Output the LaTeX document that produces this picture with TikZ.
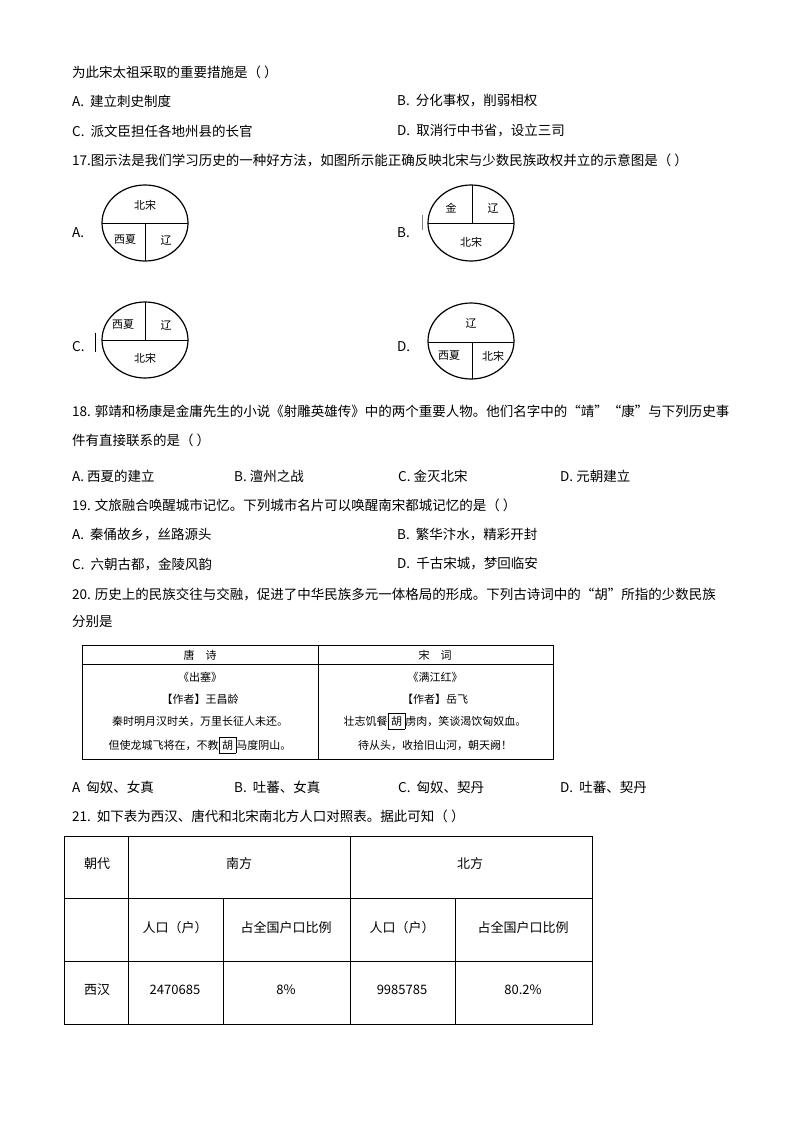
\documentclass[tikz,border=0pt]{standalone}
\usepackage{fontspec}
\setmainfont{Noto Sans CJK SC}
\begin{document}
\begin{tikzpicture}[x=1pt,y=-1pt,
 t/.style={anchor=west,inner sep=0,font=\fontsize{13.5}{14}\selectfont},
 s/.style={inner sep=0,font=\fontsize{11}{12}\selectfont},
 c/.style={inner sep=0,font=\fontsize{13}{14}\selectfont},
 el/.style={line width=1.2pt},
 ln/.style={line width=0.8pt}]
\useasboundingbox[fill=white] (0,0) rectangle (800,1132);
\node[t] (l1) at (72,72) {为此宋太祖采取的重要措施是（ ）};
\node[t] (a16) at (72,101) {A.\ \ 建立刺史制度};
\node[t] (b16) at (397,101) {B.\ \ 分化事权，削弱相权};
\node[t] (c16) at (72,131) {C.\ \ 派文臣担任各地州县的长官};
\node[t] (d16) at (397,131) {D.\ \ 取消行中书省，设立三司};
\node[t] (q17) at (72,160) {17.图示法是我们学习历史的一种好方法，如图所示能正确反映北宋与少数民族政权并立的示意图是（ ）};
% A
\node[t] (la) at (72,233) {A.};
\draw[el] (145,223) ellipse (43 and 38);
\draw[ln] (102,223) -- (188,223); \draw[ln] (145,223) -- (145,261);
\node[s] (a1) at (145,205) {北宋}; \node[s] (a2) at (125,240) {西夏}; \node[s] (a3) at (166,240) {辽};
% B
\node[t] (lb) at (397,233) {B.};
\draw[el] (471,223) ellipse (43 and 38);
\draw[ln] (428,223) -- (514,223); \draw[ln] (472,185) -- (472,223);
\draw[line width=0.6pt,gray] (422,215) -- (422,230);
\node[s] (b1) at (451,208) {金}; \node[s] (b2) at (493,208) {辽}; \node[s] (b3) at (471,242) {北宋};
% C
\node[t] (lc) at (72,347) {C.};
\draw[el] (145,340) ellipse (43 and 38);
\draw[ln] (102,340) -- (188,340); \draw[ln] (145,302) -- (145,340);
\draw[line width=1pt] (95,333) -- (95,352);
\node[s] (c1) at (123,325) {西夏}; \node[s] (c2) at (166,325) {辽}; \node[s] (c3) at (145,358) {北宋};
% D
\node[t] (ld) at (397,347) {D.};
\draw[el] (471,341) ellipse (43 and 38);
\draw[ln] (428,342) -- (514,342); \draw[ln] (472,342) -- (472,379);
\node[s] (d1) at (471,323) {辽}; \node[s] (d2) at (449,356) {西夏}; \node[s] (d3) at (493,356) {北宋};
% 18
\node[t] (q18a) at (72,411) {18. 郭靖和杨康是金庸先生的小说《射雕英雄传》中的两个重要人物。他们名字中的“靖”“康”与下列历史事};
\node[t] (q18b) at (72,440) {件有直接联系的是（ ）};
\node[t] (a18) at (72,476) {A. 西夏的建立};
\node[t] (b18) at (234,476) {B. 澶州之战};
\node[t] (c18) at (398,476) {C. 金灭北宋};
\node[t] (d18) at (560,476) {D. 元朝建立};
% 19
\node[t] (q19) at (72,505) {19. 文旅融合唤醒城市记忆。下列城市名片可以唤醒南宋都城记忆的是（ ）};
\node[t] (a19) at (72,535) {A.\ \ 秦俑故乡，丝路源头};
\node[t] (b19) at (397,535) {B.\ \ 繁华汴水，精彩开封};
\node[t] (c19) at (72,564) {C.\ \ 六朝古都，金陵风韵};
\node[t] (d19) at (397,564) {D.\ \ 千古宋城，梦回临安};
% 20
\node[t] (q20a) at (72,594) {20. 历史上的民族交往与交融，促进了中华民族多元一体格局的形成。下列古诗词中的“胡”所指的少数民族};
\node[t] (q20b) at (72,622) {分别是};
\draw[line width=1pt] (82,645) rectangle (553,759);
\draw[ln] (82,664) -- (553,664);
\draw[ln] (318,645) -- (318,759);
\node[s] (h1) at (200,655) {唐\quad 诗};
\node[s] (h2) at (435,655) {宋\quad 词};
\node[s] (p1) at (200,677) {《出塞》};
\node[s] (p2) at (200,699) {【作者】王昌龄};
\node[s] (p3) at (200,721) {秦时明月汉时关，万里长征人未还。};
\node[s] (p4) at (200,745) {但使龙城飞将在，不教\fbox{胡}马度阴山。};
\node[s] (p5) at (435,677) {《满江红》};
\node[s] (p6) at (435,699) {【作者】岳飞};
\node[s] (p7) at (435,721) {壮志饥餐\fbox{胡}虏肉，笑谈渴饮匈奴血。};
\node[s] (p8) at (435,745) {待从头，收拾旧山河，朝天阙！};
\node[t] (a20) at (72,787) {A\ \ 匈奴、女真};
\node[t] (b20) at (234,787) {B.\ \ 吐蕃、女真};
\node[t] (c20) at (398,787) {C.\ \ 匈奴、契丹};
\node[t] (d20) at (560,787) {D.\ \ 吐蕃、契丹};
% 21
\node[t] (q21) at (72,816) {21.\ \ 如下表为西汉、唐代和北宋南北方人口对照表。据此可知（ ）};
\draw[line width=1pt] (64,836) rectangle (592,1024);
\draw[ln] (64,898) -- (592,898); \draw[ln] (64,961) -- (592,961);
\draw[ln] (128,836) -- (128,1024); \draw[ln] (350,836) -- (350,1024);
\draw[ln] (223,898) -- (223,1024); \draw[ln] (455,898) -- (455,1024);
\node[c] (r1) at (97,864) {朝代}; \node[c] (r2) at (239,864) {南方}; \node[c] (r3) at (470,864) {北方};
\node[c] (r4) at (175,928) {人口（户）}; \node[c] (r5) at (286,928) {占全国户口比例};
\node[c] (r6) at (402,928) {人口（户）}; \node[c] (r7) at (523,928) {占全国户口比例};
\node[c] (r8) at (97,990) {西汉}; \node[c] (r9) at (175,990) {2470685}; \node[c] (r10) at (286,990) {8\%};
\node[c] (r11) at (402,990) {9985785}; \node[c] (r12) at (523,990) {80.2\%};
\end{tikzpicture}
\end{document}
